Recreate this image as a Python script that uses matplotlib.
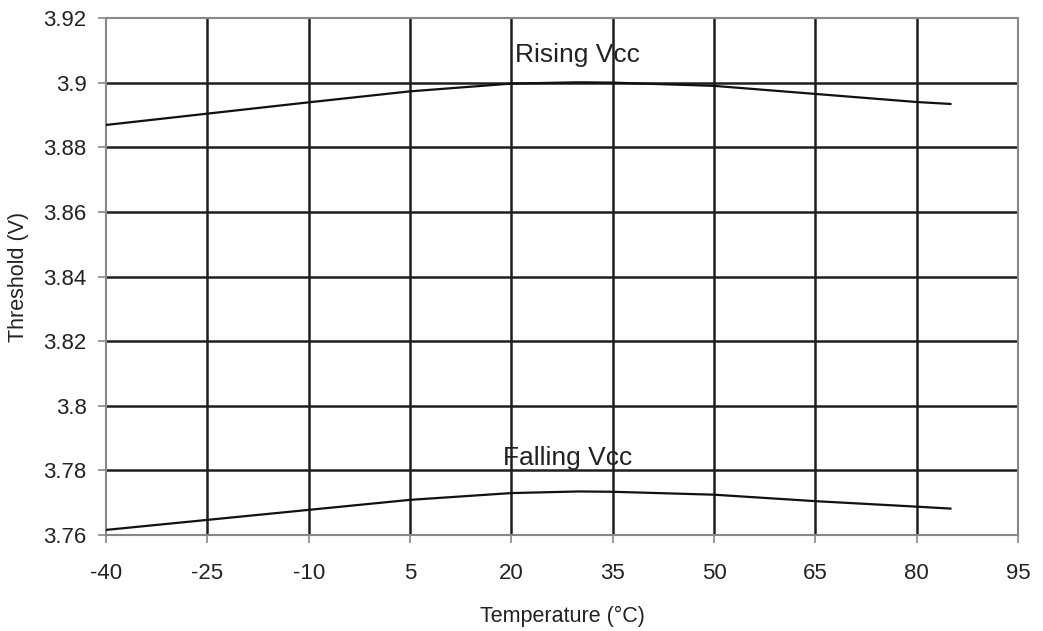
import matplotlib
matplotlib.use('Agg')
import matplotlib.pyplot as plt

plt.rcParams['font.family'] = ['Liberation Sans', 'DejaVu Sans']
plt.rcParams['axes.unicode_minus'] = False

# Datos
temperatura = [-40, -25, -10, 5, 20, 30, 35, 50, 65, 80, 85]
rising_vcc = [3.8869, 3.8904, 3.8939, 3.8973, 3.8997, 3.9001, 3.9000, 3.8990, 3.8965, 3.8940, 3.8934]
falling_vcc = [3.7616, 3.7647, 3.7678, 3.7709, 3.7730, 3.7735, 3.7734, 3.7725, 3.7705, 3.7688, 3.7682]

x_ticks = [-40, -25, -10, 5, 20, 35, 50, 65, 80, 95]
y_ticks = [3.76, 3.78, 3.8, 3.82, 3.84, 3.86, 3.88, 3.9, 3.92]
y_labels = ['3.76', '3.78', '3.8', '3.82', '3.84', '3.86', '3.88', '3.9', '3.92']

fig = plt.figure(figsize=(10.43, 6.31), dpi=100)
ax = fig.add_axes([0.1016, 0.152, 0.8744, 0.8195])

# rejilla
for xv in x_ticks[1:-1]:
    ax.axvline(xv, color='#1e1e1e', linewidth=1.8, zorder=1)
for yv in y_ticks[1:-1]:
    ax.axhline(yv, color='#1e1e1e', linewidth=1.8, zorder=1)

ax.plot(temperatura, rising_vcc, color='#111111', linewidth=1.6, zorder=3)
ax.plot(temperatura, falling_vcc, color='#111111', linewidth=1.6, zorder=3)

ax.text(20.5, 3.9064, 'Rising Vcc', fontsize=19, color='#222222', zorder=4)
ax.text(18.8, 3.7817, 'Falling Vcc', fontsize=19, color='#222222', zorder=4)

ax.set_xlim(-40, 95)
ax.set_ylim(3.76, 3.92)
ax.set_xticks(x_ticks)
ax.set_yticks(y_ticks)
ax.set_yticklabels(y_labels)

for s in ax.spines.values():
    s.set_color('#888888')
    s.set_linewidth(1.5)
ax.tick_params(direction='out', length=6, width=1.2, color='#888888',
               labelsize=16, labelcolor='#222222', pad=8)
ax.tick_params(axis='x', pad=14)

ax.set_xlabel('Temperature (°C)', fontsize=15.5, color='#222222', labelpad=16)
ax.set_ylabel('Threshold (V)', fontsize=15.5, color='#222222', labelpad=10)

fig.savefig('out.png', dpi=100)
